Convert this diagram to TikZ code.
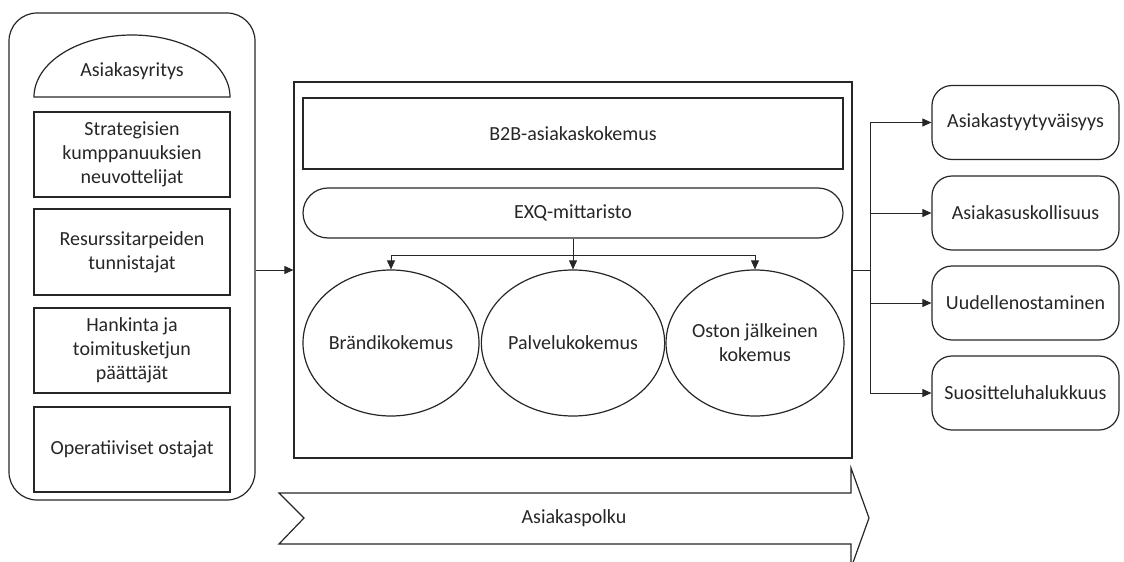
\documentclass[tikz,border=0pt]{standalone}
\usepackage{fontspec}
\setmainfont{Carlito}
\usetikzlibrary{arrows.meta,shapes.geometric}
\begin{document}
\begin{tikzpicture}[x=1pt,y=-1pt,
  every node/.style={font=\fontsize{20}{24}\selectfont, text=black!85, align=center, inner sep=0pt},
  shp/.style={draw=black!85, line width=1.2pt},
  boxL/.style={shp, rectangle, minimum width=196pt, minimum height=85pt},
  boxR/.style={shp, rectangle, rounded corners=20pt, minimum width=187pt, minimum height=74pt},
  ell/.style={shp, ellipse, minimum width=176pt, minimum height=146pt},
  arr/.style={draw=black!85, line width=0.9pt, -{Triangle[length=9pt,width=8pt]}},
  ln/.style={draw=black!85, line width=0.9pt}]
\useasboundingbox (0,0) rectangle (1124,562);
\clip (0,0) rectangle (1124,562);
% left column
\node[shp, rectangle, rounded corners=28pt, minimum width=246pt, minimum height=487pt] (outer) at (132,256.5) {};
\draw[shp] (34,97) arc[start angle=180, end angle=360, x radius=98, y radius=62] -- cycle;
\node (firm) at (132,71) {Asiakasyritys};
\node[boxL] (b1) at (132,154.5) {Strategisien\\kumppanuuksien\\neuvottelijat};
\node[boxL, minimum height=86pt] (b2) at (132,252) {Resurssitarpeiden\\tunnistajat};
\node[boxL] (b3) at (132,350.5) {Hankinta ja\\toimitusketjun\\päättäjät};
\node[boxL] (b4) at (132,449.5) {Operatiiviset ostajat};
% centre
\node[shp, rectangle, minimum width=558pt, minimum height=376pt] (mid) at (573,270) {};
\node[shp, rectangle, minimum width=540pt, minimum height=71pt] (b2b) at (573,133.5) {B2B-asiakaskokemus};
\node[shp, rectangle, rounded corners=25pt, minimum width=540pt, minimum height=50pt] (exq) at (573,213) {EXQ-mittaristo};
\node[ell] (e1) at (391,343) {Brändikokemus};
\node[ell] (e2) at (573,343) {Palvelukokemus};
\node[ell] (e3) at (755,343) {Oston jälkeinen\\kokemus};
\coordinate (j) at (573,255);
\draw[arr] (exq.south) -- (e2.north);
\draw[arr] (j) -| (e1.north);
\draw[arr] (j) -| (e3.north);
\draw[arr] (outer.east |- mid.west) -- (mid.west);
% right
\node[boxR] (r1) at (1025.5,122.5) {Asiakastyytyväisyys};
\node[boxR] (r2) at (1025.5,213) {Asiakasuskollisuus};
\node[boxR] (r3) at (1025.5,303) {Uudellenostaminen};
\node[boxR] (r4) at (1025.5,393) {Suositteluhalukkuus};
\coordinate (k) at (870,270);
\draw[ln] (mid.east) -- (k);
\draw[ln] (k |- r1.west) -- (k |- r4.west);
\draw[arr] (k |- r1.west) -- (r1.west);
\draw[arr] (k |- r2.west) -- (r2.west);
\draw[arr] (k |- r3.west) -- (r3.west);
\draw[arr] (k |- r4.west) -- (r4.west);
% chevron
\draw[shp] (279,493) -- (851,493) -- (851,468) -- (869,518) -- (851,568) -- (851,544) -- (279,544) -- (304,518) -- cycle;
\node (path) at (574,518) {Asiakaspolku};
\end{tikzpicture}
\end{document}
